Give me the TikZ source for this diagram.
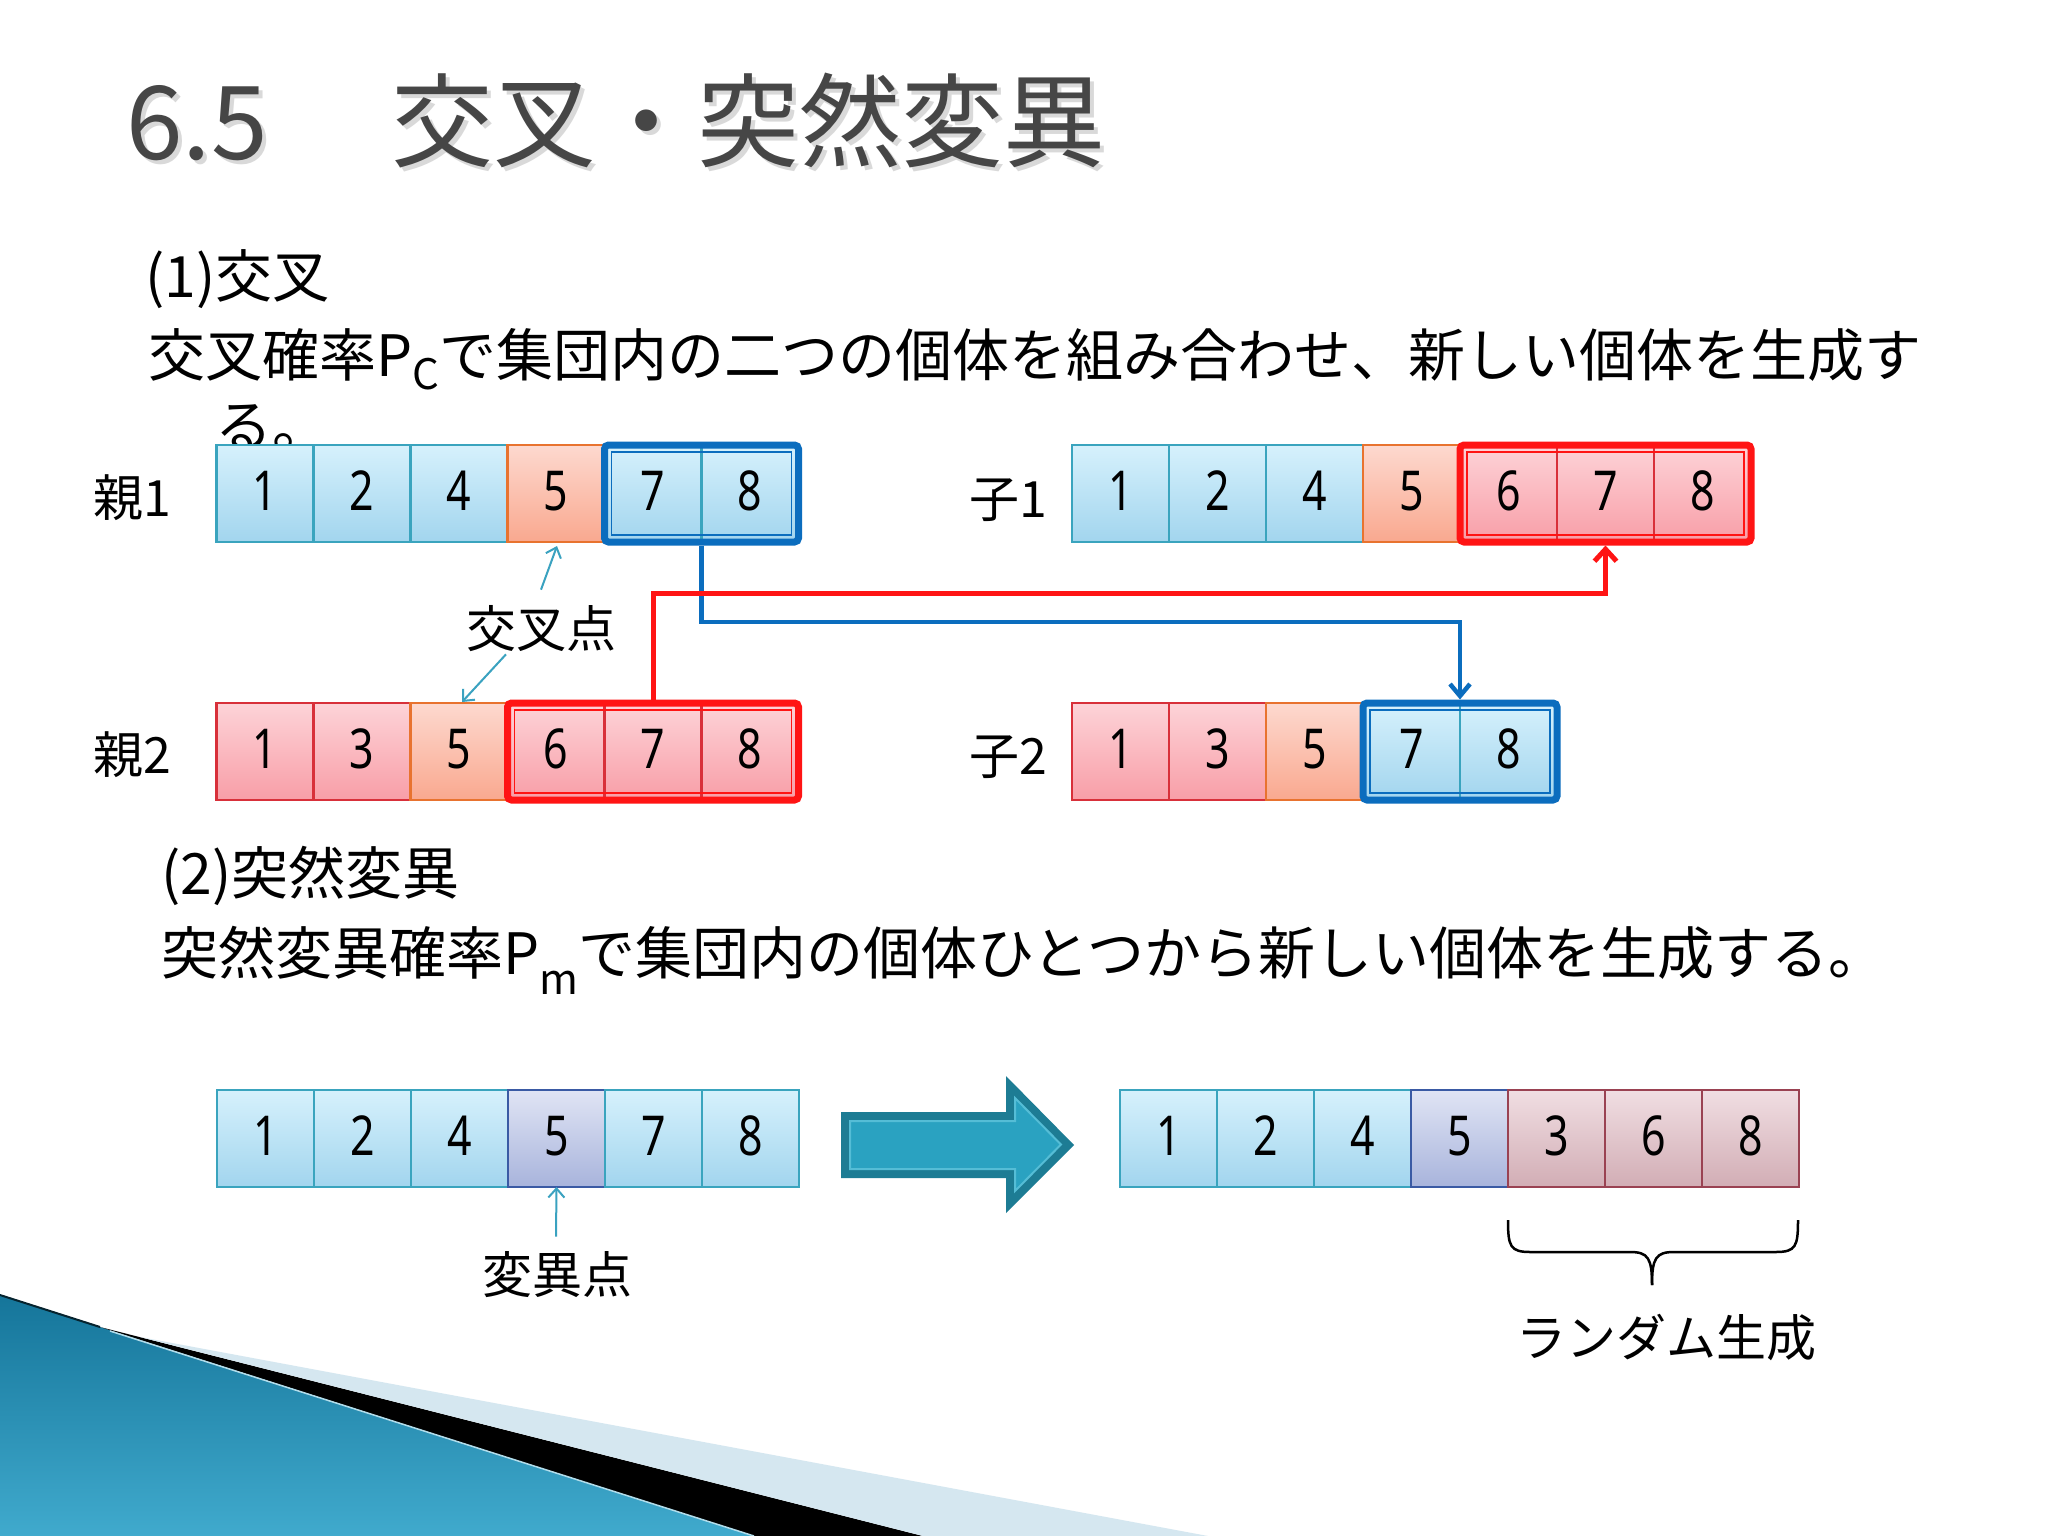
\documentclass[tikz,border=0pt]{standalone}
\usepackage{fontspec}
\setmainfont{Noto Sans CJK JP}
\newfontfamily\digfont[FakeStretch=0.78]{Noto Sans}
\usetikzlibrary{arrows.meta,calc,fit,backgrounds}
\definecolor{cbTop}{HTML}{D6F1FC}
\definecolor{cbBot}{HTML}{A2D5EE}
\definecolor{cbBd}{HTML}{3AA4BE}
\definecolor{coTop}{HTML}{FDD9CF}
\definecolor{coBot}{HTML}{F9A88F}
\definecolor{coBd}{HTML}{E8732F}
\definecolor{crTop}{HTML}{FDD3D8}
\definecolor{crBot}{HTML}{F89EA7}
\definecolor{crBd}{HTML}{D8303A}
\definecolor{clTop}{HTML}{E0E4F4}
\definecolor{clBot}{HTML}{A8B4DC}
\definecolor{clBd}{HTML}{3A5AA4}
\definecolor{cmTop}{HTML}{F0DEE2}
\definecolor{cmBot}{HTML}{D2ADB5}
\definecolor{cmBd}{HTML}{9A4252}
\definecolor{frBlue}{HTML}{0B6DBE}
\definecolor{frRed}{HTML}{FF1414}
\definecolor{tealArr}{HTML}{3AA2C0}
\definecolor{titleGray}{HTML}{464646}
\definecolor{bigFill}{HTML}{2AA2C1}
\definecolor{bigDark}{HTML}{1D7C94}
\definecolor{bigLight}{HTML}{55BDD6}
\definecolor{swDark}{HTML}{15759A}
\definecolor{swLight}{HTML}{40AACD}
\definecolor{swPale}{HTML}{D5E7F0}
\newcommand\cellnum[1]{\raisebox{5pt}{#1}}
\tikzset{
  cellbase/.style={minimum width=97pt, minimum height=97pt, inner sep=0pt, outer sep=0pt, line width=2.3pt, font=\digfont\fontsize{55}{55}\selectfont},
  cellB/.style={cellbase, draw=cbBd, top color=cbTop, bottom color=cbBot},
  cellO/.style={cellbase, draw=coBd, top color=coTop, bottom color=coBot},
  cellR/.style={cellbase, draw=crBd, top color=crTop, bottom color=crBot},
  cellL/.style={cellbase, draw=clBd, top color=clTop, bottom color=clBot},
  cellM/.style={cellbase, draw=cmBd, top color=cmTop, bottom color=cmBot},
  bframe/.style={draw=frBlue, line width=7pt, rounded corners=4pt, inner sep=0pt},
  rframe/.style={draw=frRed, line width=7pt, rounded corners=4pt, inner sep=0pt},
  binner/.style={draw=frBlue, line width=1.6pt, inner sep=-7pt},
  rinner/.style={draw=frRed, line width=1.6pt, inner sep=-7pt},
  lab/.style={font=\fontsize{50}{50}\selectfont, inner sep=0pt},
  bodytext/.style={font=\fontsize{57}{57}\selectfont, inner sep=0pt, anchor=base west},
  tarr/.style={draw=tealArr, line width=2pt, -{Straight Barb[length=9pt,width=16pt]}},
  rconn/.style={draw=frRed, line width=5pt, -{Straight Barb[length=12pt,width=22pt]}},
  bconn/.style={draw=frBlue, line width=4.5pt, -{Straight Barb[length=12pt,width=20pt]}},
  bracel/.style={draw=black, line width=2.5pt}
}
\begin{document}
\begin{tikzpicture}[x=1pt,y=-1pt]
\useasboundingbox (0,0) rectangle (2048,1536);
\fill[white] (0,0) rectangle (2048,1536);

% bottom-left swoosh
\shade[top color=swDark, bottom color=swLight] (0,1295) -- (754,1536) -- (0,1536) -- cycle;
\fill[black] (100,1327) -- (923,1536) -- (754,1536) -- cycle;
\fill[swPale] (140,1337) -- (1208,1536) -- (923,1536) -- cycle;
\draw[black!70!swDark, line width=2pt] (0,1295) -- (100,1327);
\draw[white!60!swLight, line width=1.5pt] (110,1331) -- (754,1536);

% title
\node[anchor=base west, inner sep=0pt, font=\fontsize{102}{102}\selectfont, text=gray!30] (titlesh) at (130,164) {6.5\hspace{124pt}交叉・突然変異};
\node[anchor=base west, inner sep=0pt, font=\fontsize{102}{102}\selectfont, text=titleGray] (title) at (126,160) {6.5\hspace{124pt}交叉・突然変異};

% section 1 text
\node[bodytext] (s1) at (145,297) {(1)交叉};
\node[bodytext] (s1a) at (148,376) {交叉確率P\raisebox{-13pt}{\fontsize{42}{42}\selectfont C}で集団内の二つの個体を組み合わせ、新しい個体を生成す};
\node[bodytext] (s1b) at (215,447) {る。};

% parent 1
\node[cellB] (p1c1) at (265,493.5) {\cellnum{1}};
\node[cellB] (p1c2) at (362,493.5) {\cellnum{2}};
\node[cellB] (p1c3) at (459,493.5) {\cellnum{4}};
\node[cellO] (p1c4) at (556,493.5) {\cellnum{5}};
\node[cellB] (p1c5) at (653,493.5) {\cellnum{7}};
\node[cellB] (p1c6) at (750,493.5) {\cellnum{8}};
% parent 2
\node[cellR] (p2c1) at (265,751.5) {\cellnum{1}};
\node[cellR] (p2c2) at (362,751.5) {\cellnum{3}};
\node[cellO] (p2c3) at (459,751.5) {\cellnum{5}};
\node[cellR] (p2c4) at (556,751.5) {\cellnum{6}};
\node[cellR] (p2c5) at (653,751.5) {\cellnum{7}};
\node[cellR] (p2c6) at (750,751.5) {\cellnum{8}};
% child 1
\node[cellB] (c1c1) at (1120.5,493.5) {\cellnum{1}};
\node[cellB] (c1c2) at (1217.5,493.5) {\cellnum{2}};
\node[cellB] (c1c3) at (1314.5,493.5) {\cellnum{4}};
\node[cellO] (c1c4) at (1411.5,493.5) {\cellnum{5}};
\node[cellR] (c1c5) at (1508.5,493.5) {\cellnum{6}};
\node[cellR] (c1c6) at (1605.5,493.5) {\cellnum{7}};
\node[cellR] (c1c7) at (1702.5,493.5) {\cellnum{8}};
% child 2
\node[cellR] (c2c1) at (1120.5,751.5) {\cellnum{1}};
\node[cellR] (c2c2) at (1217.5,751.5) {\cellnum{3}};
\node[cellO] (c2c3) at (1314.5,751.5) {\cellnum{5}};
\node[cellB] (c2c4) at (1411.5,751.5) {\cellnum{7}};
\node[cellB] (c2c5) at (1508.5,751.5) {\cellnum{8}};

% frames
\node[bframe, fit=(p1c5)(p1c6)] (f1) {};
\node[binner, fit=(p1c5)(p1c6)] (f1i) {};
\node[rframe, fit=(p2c4)(p2c6)] (f2) {};
\node[rinner, fit=(p2c4)(p2c6)] (f2i) {};
\node[rframe, fit=(c1c5)(c1c7)] (f3) {};
\node[rinner, fit=(c1c5)(c1c7)] (f3i) {};
\node[bframe, fit=(c2c4)(c2c5)] (f4) {};
\node[binner, fit=(c2c4)(c2c5)] (f4i) {};

% row labels
\node[lab, anchor=west] (L1) at (93,498) {親1};
\node[lab, anchor=west] (L2) at (93,755) {親2};
\node[lab, anchor=west] (L3) at (969,500) {子1};
\node[lab, anchor=west] (L4) at (969,757) {子2};

% crossover point label and arrows
\node[lab] (kp) at (541,629) {交叉点};
\draw[tarr] ($(kp.north)+(0,-16)$) -- ($(p1c4.south)+(1,4)$);
\draw[tarr] ($(kp.south)+(-35,2)$) -- ($(p2c3.north)+(3,-1)$);

% connectors
\coordinate (bl) at (0,622);
\coordinate (rl) at (0,593);
\draw[bconn] (f1.south) -- (f1.south |- bl) -- (f4.north |- bl) -- (f4.north);
\draw[rconn] (f2.north) -- (f2.north |- rl) -- (f3.south |- rl) -- (f3.south);

% section 2 text
\node[bodytext] (s2) at (161,894) {(2)突然変異};
\node[bodytext] (s2a) at (161,974) {突然変異確率P\raisebox{-20pt}{\fontsize{42}{42}\selectfont m}で集団内の個体ひとつから新しい個体を生成する。};

% mutation rows
\node[cellB] (m1c1) at (265.5,1138.5) {\cellnum{1}};
\node[cellB] (m1c2) at (362.5,1138.5) {\cellnum{2}};
\node[cellB] (m1c3) at (459.5,1138.5) {\cellnum{4}};
\node[cellL] (m1c4) at (556.5,1138.5) {\cellnum{5}};
\node[cellB] (m1c5) at (653.5,1138.5) {\cellnum{7}};
\node[cellB] (m1c6) at (750.5,1138.5) {\cellnum{8}};

\node[cellB] (m2c1) at (1168.5,1138.5) {\cellnum{1}};
\node[cellB] (m2c2) at (1265.5,1138.5) {\cellnum{2}};
\node[cellB] (m2c3) at (1362.5,1138.5) {\cellnum{4}};
\node[cellL] (m2c4) at (1459.5,1138.5) {\cellnum{5}};
\node[cellM] (m2c5) at (1556.5,1138.5) {\cellnum{3}};
\node[cellM] (m2c6) at (1653.5,1138.5) {\cellnum{6}};
\node[cellM] (m2c7) at (1750.5,1138.5) {\cellnum{8}};

% big arrow
\fill[bigDark] (841,1112) -- (1006,1112) -- (1006,1076) -- (1074,1145) -- (1006,1213) -- (1006,1178) -- (841,1178) -- cycle;
\filldraw[fill=bigFill, draw=bigLight, line width=2pt] (850,1121) -- (1015,1121) -- (1015,1098) -- (1061,1144.5) -- (1015,1191) -- (1015,1169) -- (850,1169) -- cycle;

% mutation point label
\node[lab] (vp) at (557,1275) {変異点};
\draw[tarr] ($(vp.north)+(-1,-15)$) -- (m1c4.south);

% brace
\draw[bracel] (1508,1220) .. controls (1508,1246) and (1510,1252) .. (1530,1252) -- (1630,1252) .. controls (1648,1252) and (1652,1258) .. (1652,1285);
\draw[bracel] (1652,1285) .. controls (1652,1258) and (1656,1252) .. (1674,1252) -- (1776,1252) .. controls (1796,1252) and (1798,1246) .. (1798,1220);
\node[lab] (rg) at (1666,1338) {ランダム生成};

% row shadows
\begin{pgfonlayer}{background}
\foreach \a/\b in {p1c1/p1c6, p2c1/p2c6, c1c1/c1c7, c2c1/c2c5, m1c1/m1c6, m2c1/m2c7} {
  \fill[black, opacity=0.06] ($(\a.south west)+(2,-3)$) rectangle ($(\b.south east)+(-2,13)$);
  \fill[black, opacity=0.07] ($(\a.south west)+(2,-3)$) rectangle ($(\b.south east)+(-2,9)$);
  \fill[black, opacity=0.08] ($(\a.south west)+(2,-3)$) rectangle ($(\b.south east)+(-2,5)$);
}
\end{pgfonlayer}
\end{tikzpicture}
\end{document}
